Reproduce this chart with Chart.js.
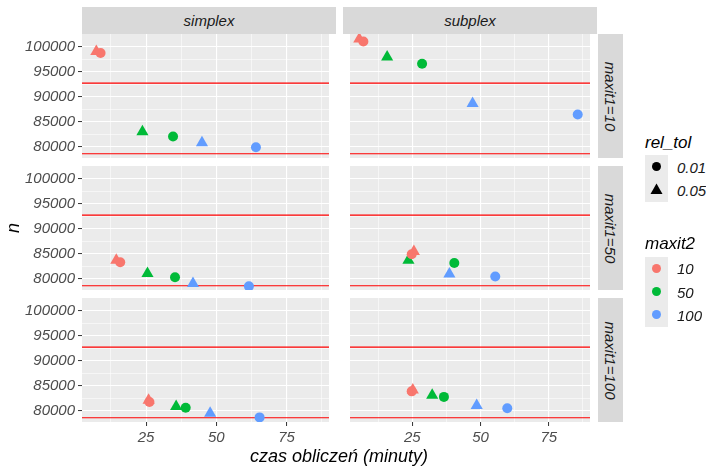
<!DOCTYPE html>
<html>
<head>
<meta charset="utf-8">
<title>n vs czas obliczeń</title>
<script src="https://cdn.jsdelivr.net/npm/chart.js@4.4.1/dist/chart.umd.min.js"></script>
<style>
  body { margin: 0; width: 706px; height: 466px; position: relative; overflow: hidden; background: #fff;
         font-family: "Liberation Sans", Arial, sans-serif; font-style: italic; }
  canvas { position: absolute; }
  .strip { position: absolute; background: #d9d9d9; color: #1a1a1a; font-size: 15px;
           display: flex; align-items: center; justify-content: center; }
  .strip span { display: block; white-space: nowrap; }
  .strip.right span { transform: rotate(90deg); }
  .txt { position: absolute; white-space: nowrap; line-height: 1; }
  .key { position: absolute; background: #ebebeb; }
</style>
</head>
<body>
<script>
// facets: method (columns) x maxit1 (rows)
const methods = ["simplex", "subplex"];
const maxit1 = [10, 50, 100];
const maxit2 = ["10", "50", "100"];
const relTol = ["0.01", "0.05"];

// each panel ordered: [m2=10 tol 0.01, m2=10 tol 0.05, m2=50 0.01, m2=50 0.05, m2=100 0.01, m2=100 0.05]
const simplex10Time = [8.8, 7.3, 34.6, 23.7, 64.1, 44.9];
const simplex10N    = [98740, 99060, 82000, 82940, 79860, 80740];
const subplex10Time = [7.1, 5.6, 28.6, 15.8, 85.6, 47.1];
const subplex10N    = [101060, 101540, 96600, 97940, 86400, 88600];
const simplex50Time = [15.8, 14.4, 35.3, 25.5, 61.6, 41.7];
const simplex50N    = [83260, 83660, 80260, 81020, 78430, 78980];
const subplex50Time = [24.8, 25.6, 40.4, 23.6, 55.4, 38.6];
const subplex50N    = [84880, 85400, 83110, 83660, 80400, 80930];
const simplex100Time = [26.2, 25.9, 39.1, 35.7, 65.4, 47.8];
const simplex100N    = [81700, 82060, 80550, 80820, 78620, 79450];
const subplex100Time = [24.8, 25.2, 36.6, 32.3, 59.8, 48.6];
const subplex100N    = [83840, 84110, 82730, 83080, 80470, 81030];

// horizontal reference lines (same in every panel)
const refLines = [92700, 78550];

// axis limits and ticks
const xMin = 2.2, xMax = 90.1;
const yMin = 77700, yMax = 102550;
const xMajor = [25, 50, 75];
const xMinor = [12.5, 37.5, 62.5, 87.5];
const yMajor = [80000, 85000, 90000, 95000, 100000];
const yMinor = [82500, 87500, 92500, 97500];

// layout
const colLeft = [82, 343];
const rowTop = [34, 166, 298];
const panelW = 254, panelH = 124;
const yAxisW = 82, xAxisH = 26, pad = 14;

const colors = ["#F8766D", "#00BA38", "#619CFF"];
const shapes = ["circle", "triangle"];
const sizes = [5, 7];
const font = "'Liberation Sans', Arial, sans-serif";

const panelBg = {
  id: "panelBg",
  beforeDraw(chart) {
    const a = chart.chartArea, c = chart.ctx;
    c.save();
    c.fillStyle = "#EBEBEB";
    c.fillRect(a.left, a.top, a.right - a.left, a.bottom - a.top);
    c.restore();
  }
};

const isIn = (list, c) => !!(c && c.tick && list.includes(c.tick.value));

function makePanel(col, row, times, ns) {
  const showY = col === 0, showX = row === 2;
  const canvas = document.createElement("canvas");
  const w = panelW + (showY ? yAxisW : 0);
  const h = pad + panelH + (showX ? xAxisH : pad);
  canvas.width = w;
  canvas.height = h;
  canvas.style.left = (colLeft[col] - (showY ? yAxisW : 0)) + "px";
  canvas.style.top = (rowTop[row] - pad) + "px";
  document.body.appendChild(canvas);

  const datasets = refLines.map(v => ({
    type: "line",
    data: [{ x: xMin, y: v }, { x: xMax, y: v }],
    borderColor: "#FF0000", borderWidth: 1.1, pointRadius: 0, order: 2, clip: 0
  }));
  maxit2.forEach((m, i) => relTol.forEach((t, j) => {
    const k = i * 2 + j;
    datasets.push({
      type: "scatter",
      label: "maxit2=" + m + ", rel_tol=" + t,
      data: [{ x: times[k], y: ns[k] }],
      pointStyle: shapes[j], pointRadius: sizes[j],
      backgroundColor: colors[i], borderColor: colors[i], borderWidth: 0,
      order: 1, clip: 0
    });
  }));

  new Chart(canvas.getContext("2d"), {
    type: "scatter",
    data: { datasets: datasets },
    plugins: [panelBg],
    options: {
      responsive: false, animation: false, devicePixelRatio: 1,
      layout: { padding: { top: pad, bottom: showX ? 0 : pad, left: 0, right: 0 } },
      plugins: { legend: { display: false }, tooltip: { enabled: false } },
      scales: {
        x: {
          type: "linear", min: xMin, max: xMax,
          afterBuildTicks: s => { s.ticks = xMinor.concat(xMajor).sort((a, b) => a - b).map(v => ({ value: v })); },
          afterFit: s => { s.height = showX ? xAxisH : 0; },
          border: { display: false },
          grid: {
            color: "#FFFFFF",
            lineWidth: c => isIn(xMajor, c) ? 1.1 : 0.55,
            drawTicks: showX, tickLength: 4, tickWidth: 1,
            tickColor: c => isIn(xMajor, c) ? "#333333" : "rgba(0,0,0,0)"
          },
          ticks: {
            display: showX, autoSkip: false, maxRotation: 0, padding: 3, color: "#4D4D4D",
            font: { family: font, size: 15, style: "italic" },
            callback: v => xMajor.includes(v) ? String(v) : ""
          }
        },
        y: {
          type: "linear", min: yMin, max: yMax,
          afterBuildTicks: s => { s.ticks = yMinor.concat(yMajor).sort((a, b) => a - b).map(v => ({ value: v })); },
          afterFit: s => { s.width = showY ? yAxisW : 0; },
          border: { display: false },
          grid: {
            color: "#FFFFFF",
            lineWidth: c => isIn(yMajor, c) ? 1.1 : 0.55,
            drawTicks: showY, tickLength: 4, tickWidth: 1,
            tickColor: c => isIn(yMajor, c) ? "#333333" : "rgba(0,0,0,0)"
          },
          ticks: {
            display: showY, autoSkip: false, padding: 3, color: "#4D4D4D",
            font: { family: font, size: 15, style: "italic" },
            callback: v => yMajor.includes(v) ? String(v) : ""
          }
        }
      }
    }
  });
}

makePanel(0, 0, simplex10Time, simplex10N);
makePanel(1, 0, subplex10Time, subplex10N);
makePanel(0, 1, simplex50Time, simplex50N);
makePanel(1, 1, subplex50Time, subplex50N);
makePanel(0, 2, simplex100Time, simplex100N);
makePanel(1, 2, subplex100Time, subplex100N);

// facet strips
function addDiv(cls, css, html) {
  const d = document.createElement("div");
  d.className = cls;
  Object.assign(d.style, css);
  d.innerHTML = html;
  document.body.appendChild(d);
  return d;
}
methods.forEach((m, i) => addDiv("strip", { left: colLeft[i] + "px", top: "7px", width: panelW + "px", height: "27px" }, "<span>" + m + "</span>"));
maxit1.forEach((m, r) => addDiv("strip right", { left: "598px", top: rowTop[r] + "px", width: "25px", height: panelH + "px" }, "<span>maxit1=" + m + "</span>"));

// axis titles
addDiv("txt", { left: "339px", top: "456px", fontSize: "18px", color: "#000", transform: "translate(-50%,-50%)" }, "czas obliczeń (minuty)");
addDiv("txt", { left: "13px", top: "228px", fontSize: "18px", color: "#000", transform: "translate(-50%,-50%) rotate(-90deg)" }, "n");

// legends
function keySvg(shape, color) {
  const s = shape === "circle"
    ? '<circle cx="11.5" cy="11.5" r="4.5" fill="' + color + '"/>'
    : '<polygon points="11.5,5.5 17.5,16 5.5,16" fill="' + color + '"/>';
  return '<svg width="23" height="23" style="display:block">' + s + "</svg>";
}
addDiv("txt", { left: "645px", top: "142px", fontSize: "17px", color: "#000", transform: "translateY(-50%)" }, "rel_tol");
relTol.forEach((t, j) => {
  const cy = 155 + 23.3 * j;
  addDiv("key", { left: "645px", top: cy + "px", width: "23px", height: "23.3px" }, keySvg(shapes[j], "#000"));
  addDiv("txt", { left: "677px", top: (cy + 11.6) + "px", fontSize: "15px", color: "#1a1a1a", transform: "translateY(-50%)" }, t);
});
addDiv("txt", { left: "645px", top: "243px", fontSize: "17px", color: "#000", transform: "translateY(-50%)" }, "maxit2");
maxit2.forEach((m, i) => {
  const cy = 256.7 + 23.3 * i;
  addDiv("key", { left: "645px", top: cy + "px", width: "23px", height: "23.3px" }, keySvg("circle", colors[i]));
  addDiv("txt", { left: "677px", top: (cy + 11.6) + "px", fontSize: "15px", color: "#1a1a1a", transform: "translateY(-50%)" }, m);
});
</script>
</body>
</html>
